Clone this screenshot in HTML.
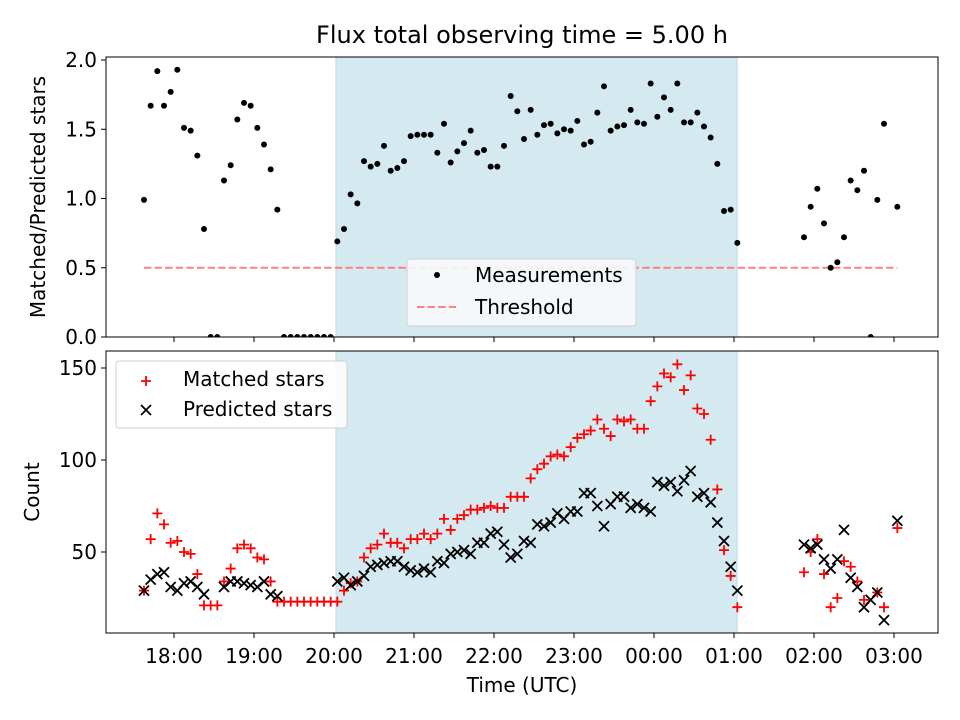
<!DOCTYPE html>
<html><head><meta charset="utf-8"><style>
html,body{margin:0;padding:0;background:#fff;}
svg{display:block;font-family:"DejaVu Sans","Liberation Sans",sans-serif;}
</style></head><body>
<svg id="chart" width="960" height="720" viewBox="0 0 960 720" xmlns="http://www.w3.org/2000/svg">
<text x="522" y="43" font-size="24" text-anchor="middle" fill="#000">Flux total observing time = 5.00 h</text>
<g id="topG"></g>
<g id="botG"></g>
<text transform="translate(45,197) rotate(-90)" font-size="20" text-anchor="middle">Matched/Predicted stars</text>
<text transform="translate(39,492) rotate(-90)" font-size="20" text-anchor="middle">Count</text>
<text x="522" y="692" font-size="20" text-anchor="middle">Time (UTC)</text>
</svg>
<script>
// minutes after 17:00 UTC
const times=[37.5,42.5,47.5,52.5,57.5,62.5,67.5,72.5,77.5,82.5,87.5,92.5,97.5,102.5,107.5,112.5,117.5,122.5,127.5,132.5,137.5,142.5,147.5,152.5,157.5,162.5,167.5,172.5,177.5,182.5,187.5,192.5,197.5,202.5,207.5,212.5,217.5,222.5,227.5,232.5,237.5,242.5,247.5,252.5,257.5,262.5,267.5,272.5,277.5,282.5,287.5,292.5,297.5,302.5,307.5,312.5,317.5,322.5,327.5,332.5,337.5,342.5,347.5,352.5,357.5,362.5,367.5,372.5,377.5,382.5,387.5,392.5,397.5,402.5,407.5,412.5,417.5,422.5,427.5,432.5,437.5,442.5,447.5,452.5,457.5,462.5,467.5,472.5,477.5,482.5,532.5,537.5,542.5,547.5,552.5,557.5,562.5,567.5,572.5,577.5,582.5,587.5,592.5,602.5];
const ratio=[0.99,1.67,1.92,1.67,1.77,1.93,1.51,1.49,1.31,0.78,0,0,1.13,1.24,1.57,1.69,1.67,1.51,1.39,1.21,0.92,0,0,0,0,0,0,0,0,
0.69,0.78,1.03,0.965,1.27,1.23,1.25,1.38,1.20,1.22,1.27,1.45,1.46,1.46,1.46,1.33,1.54,1.26,1.34,1.40,1.49,1.33,1.35,1.23,1.23,1.38,1.74,1.63,1.43,1.64,1.46,1.53,1.54,1.47,1.50,1.49,1.56,1.39,1.41,1.62,1.81,1.49,1.52,1.53,1.64,1.55,1.54,1.83,1.59,1.73,1.64,1.83,1.55,1.55,1.62,1.52,1.44,1.25,0.91,0.92,0.68,
0.72,0.94,1.07,0.82,0.50,0.54,0.72,1.13,1.06,1.20,0,0.99,1.54,0.94];
const matched=[29,57,71,65,55,56,50,49,38,21,21,21,34,41,52,54,52,47,46,34,23,23,23,23,23,23,23,23,23,
23,29,33,34,47,52,54,60,55,55,52,57,57,60,57,60,68,62,68,70,73,73,74,75,74,74,80,80,80,90,95,98,102,103,102,107,112,114,116,122,117,113,122,121,122,117,117,132,140,147,145,152,138,146,128,125,111,84,51,37,20,
39,50,57,38,20,25,45,42,34,24,0,28,20,63];
const predicted=[29,35,38,39,31,29,33,34,31,27,null,null,31,34,34,33,32,31,34,27,26,null,null,null,null,null,null,null,null,
34,36,32,34,37,42,43,44,45,45,42,40,39,41,39,45,44,49,50,51,49,55,55,60,61,54,47,49,56,55,65,64,66,71,68,72,72,82,82,75,64,76,80,80,74,76,74,72,88,86,88,83,89,94,80,82,77,66,56,42,29,
54,52,54,46,41,46,62,36,31,20,24,28,13,67];
const xTickVals=[60,120,180,240,300,360,420,480,540,600];
const xTickLabels=["18:00","19:00","20:00","21:00","22:00","23:00","00:00","01:00","02:00","03:00"];
const topTicks=[0,0.5,1,1.5,2];
const topTickLabels=["0.0","0.5","1.0","1.5","2.0"];
const botTicks=[50,100,150];
const threshold=[0.5];
const thrRange=[37.5,602.5];
const shadeRange=[181.5,482.3];

const NS="http://www.w3.org/2000/svg";
const L=106,R=938;
const X=m=>174+(m-60)*80/60;
const T={top:57,bot:337};const B={top:351,bot:633};
const Yt=v=>337-v*138.5;
const Yb=v=>644-v*1.84;
function mk(p,tag,a){const e=document.createElementNS(NS,tag);for(const k in a)e.setAttribute(k,a[k]);p.appendChild(e);return e;}
const topG=document.getElementById('topG'),botG=document.getElementById('botG');
const defs=mk(document.getElementById('chart'),'defs',{});
const c1=mk(defs,'clipPath',{id:'ct'});mk(c1,'rect',{x:L,y:T.top,width:R-L,height:T.bot-T.top});
const c2=mk(defs,'clipPath',{id:'cb'});mk(c2,'rect',{x:L,y:B.top,width:R-L,height:B.bot-B.top});

[[topG,T],[botG,B]].forEach(([g,P],i)=>{
  const s=mk(g,'rect',{x:X(shadeRange[0]),y:P.top,width:X(shadeRange[1])-X(shadeRange[0]),height:P.bot-P.top,fill:'#d4eaf0',stroke:'#b9dbe6','stroke-width':1});
  
  
});

const th=mk(topG,'line',{x1:X(thrRange[0]),x2:X(thrRange[1]),y1:Yt(threshold[0]),y2:Yt(threshold[0]),stroke:'#ff8080','stroke-width':2,'stroke-dasharray':'7.4,3.2'});



const gm=mk(topG,'g',{'clip-path':'url(#ct)'});
times.forEach((t,i)=>{const c=mk(gm,'circle',{cx:X(t),cy:Yt(ratio[i]),r:3,fill:'#000'});

});

const gb=mk(botG,'g',{'clip-path':'url(#cb)'});
times.forEach((t,i)=>{
  if(matched[i]!=null){const x=X(t),y=Yb(matched[i]);
  const p=mk(gb,'path',{d:`M${x-5},${y}H${x+5}M${x},${y-5}V${y+5}`,stroke:'#ff0000','stroke-width':1.8});
  
  }
});
times.forEach((t,i)=>{
  if(predicted[i]!=null){const x=X(t),y=Yb(predicted[i]);
  const p=mk(gb,'path',{d:`M${x-5},${y-5}L${x+5},${y+5}M${x-5},${y+5}L${x+5},${y-5}`,stroke:'#000','stroke-width':1.8});
  
  }
});

[[topG,T,'top'],[botG,B,'bottom']].forEach(([g,P,n])=>{
  const f=mk(g,'rect',{x:L,y:P.top,width:R-L,height:P.bot-P.top,fill:'none',stroke:'#000','stroke-width':1});
  
  
  xTickVals.forEach((v,i)=>{const x=X(v);mk(g,'line',{x1:x,x2:x,y1:P.bot,y2:P.bot+5,stroke:'#000'});
    if(n==='bottom'){const t=mk(g,'text',{x:x,y:663,'font-size':20,'text-anchor':'middle'});t.textContent=xTickLabels[i];
    
    }});
});
topTicks.forEach((v,i)=>{const y=Yt(v);mk(topG,'line',{x1:L-5,x2:L,y1:y,y2:y,stroke:'#000'});
  const t=mk(topG,'text',{x:L-9,y:y+7,'font-size':20,'text-anchor':'end'});t.textContent=topTickLabels[i];
  
  });
botTicks.forEach(v=>{const y=Yb(v);mk(botG,'line',{x1:L-5,x2:L,y1:y,y2:y,stroke:'#000'});
  const t=mk(botG,'text',{x:L-9,y:y+7,'font-size':20,'text-anchor':'end'});t.textContent=String(v);
  
  });

const lg1=mk(topG,'g',{});


mk(lg1,'rect',{x:407,y:259,width:229,height:67,rx:3,fill:'#f7fafc','fill-opacity':0.9,stroke:'#d0d0d0'});
mk(lg1,'circle',{cx:437,cy:275,r:3,fill:'#000'});
let tx=mk(lg1,'text',{x:475,y:282,'font-size':20});tx.textContent='Measurements';
mk(lg1,'line',{x1:417,x2:457,y1:307,y2:307,stroke:'#ff8080','stroke-width':2,'stroke-dasharray':'7.4,3.2'});
tx=mk(lg1,'text',{x:475,y:314,'font-size':20});tx.textContent='Threshold';

const lg2=mk(botG,'g',{});


mk(lg2,'rect',{x:116,y:361,width:231,height:67,rx:3,fill:'#fff','fill-opacity':0.85,stroke:'#d0d0d0'});
mk(lg2,'path',{d:'M141,381H151M146,376V386',stroke:'#ff0000','stroke-width':1.8});
tx=mk(lg2,'text',{x:183,y:386,'font-size':20});tx.textContent='Matched stars';
mk(lg2,'path',{d:'M141,405L151,415M141,415L151,405',stroke:'#000','stroke-width':1.8});
tx=mk(lg2,'text',{x:183,y:416,'font-size':20});tx.textContent='Predicted stars';
</script>
</body></html>
